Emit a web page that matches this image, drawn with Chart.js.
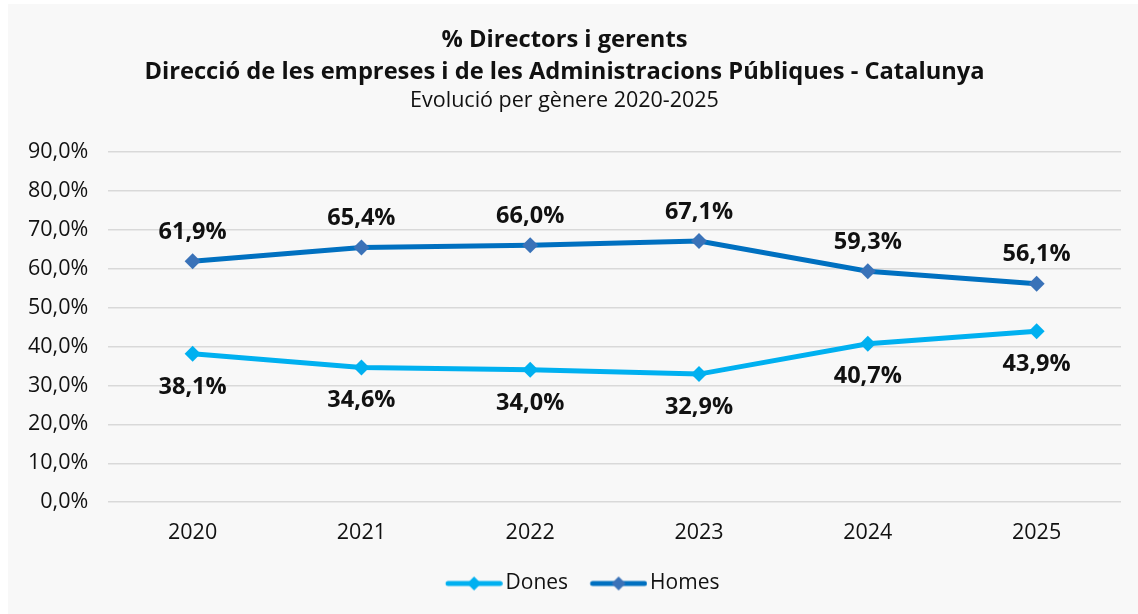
<!DOCTYPE html>
<html>
<head>
<meta charset="utf-8">
<script src="https://cdn.jsdelivr.net/npm/chart.js@4/dist/chart.umd.min.js"></script>
<style>
  html, body { margin: 0; padding: 0; background: #ffffff; }
  #wrap { position: absolute; left: 8px; top: 4px; width: 1130px; height: 610px; background: #f8f8f8; }
</style>
</head>
<body>
<div id="wrap"><canvas id="chart"></canvas></div>
<script>
const years = ['2020', '2021', '2022', '2023', '2024', '2025'];
const dones = [38.1, 34.6, 34.0, 32.9, 40.7, 43.9];
const homes = [61.9, 65.4, 66.0, 67.1, 59.3, 56.1];
const yTicks = { min: 0, max: 90, step: 10 };

const FONT = '"Open Sans", "Noto Sans", sans-serif';
const fmt = v => v.toFixed(1).replace('.', ',') + '%';

// legend sample: a line with a diamond in the middle, drawn into a small canvas
const SAMPLE_BOX = 54.5;   // pointStyleWidth
const SAMPLE_IMG = 70;     // image width
const SAMPLE_LEAD = 5;     // blank space before the visible line
const SAMPLE_LEN = 57;     // visible line length
function legendSample(lineColor, markColor) {
  const c = document.createElement('canvas');
  c.width = SAMPLE_IMG; c.height = 18;
  const g = c.getContext('2d');
  const x0 = (SAMPLE_IMG - SAMPLE_BOX) / 2 + SAMPLE_LEAD;
  const x1 = x0 + SAMPLE_LEN;
  g.strokeStyle = lineColor;
  g.lineWidth = 5;
  g.lineCap = 'round';
  g.beginPath(); g.moveTo(x0 + 2.5, 9); g.lineTo(x1 - 2.5, 9); g.stroke();
  const m = (x0 + x1) / 2;
  g.fillStyle = markColor;
  g.beginPath(); g.moveTo(m, 2); g.lineTo(m + 7, 9); g.lineTo(m, 16); g.lineTo(m - 7, 9); g.closePath(); g.fill();
  return c;
}

const valueLabels = {
  id: 'valueLabels',
  afterDatasetsDraw(chart) {
    const ctx = chart.ctx;
    ctx.save();
    ctx.font = 'bold 23.5px ' + FONT;
    ctx.fillStyle = '#111';
    ctx.textAlign = 'center';
    ctx.textBaseline = 'middle';
    chart.data.datasets.forEach((ds, i) => {
      const meta = chart.getDatasetMeta(i);
      const dy = ds.labelSide === 'above' ? -29 : 33;
      meta.data.forEach((pt, j) => {
        ctx.fillText(fmt(ds.data[j]), pt.x, pt.y + dy);
      });
    });
    ctx.restore();
  }
};

// nudge the legend box so it sits a little right of centre, as in the original
const legendShift = {
  id: 'legendShift',
  afterLayout(chart) {
    if (chart.legend) chart.legend.left += 31;
  }
};

new Chart(document.getElementById('chart'), {
  type: 'line',
  data: {
    labels: years,
    datasets: [
      {
        label: 'Dones',
        data: dones,
        labelSide: 'below',
        borderColor: '#00b0f0',
        backgroundColor: '#00b0f0',
        pointBackgroundColor: '#00b0f0',
        pointBorderColor: '#00b0f0',
        borderWidth: 5,
        pointStyle: 'rectRot',
        pointRadius: 8,
        pointBorderWidth: 0,
        tension: 0,
        legendImg: legendSample('#00b0f0', '#00b0f0')
      },
      {
        label: 'Homes',
        data: homes,
        labelSide: 'above',
        borderColor: '#0070c0',
        backgroundColor: '#0070c0',
        pointBackgroundColor: '#3a72b8',
        pointBorderColor: '#3a72b8',
        borderWidth: 5,
        pointStyle: 'rectRot',
        pointRadius: 8,
        pointBorderWidth: 0,
        tension: 0,
        legendImg: legendSample('#0070c0', '#3a72b8')
      }
    ]
  },
  options: {
    responsive: true,
    maintainAspectRatio: false,
    animation: false,
    layout: { padding: { left: 0, right: 17, top: 0, bottom: 10 } },
    scales: {
      x: {
        offset: true,
        grid: { display: false },
        border: { display: false },
        ticks: { color: '#111', font: { family: FONT, size: 21.5 }, padding: 10 }
      },
      y: {
        min: yTicks.min,
        max: yTicks.max,
        grid: { color: '#d9d9d9', lineWidth: 1.5, drawTicks: false },
        border: { display: false },
        ticks: { stepSize: yTicks.step, color: '#111', font: { family: FONT, size: 21.5 }, padding: 20, callback: v => fmt(v) }
      }
    },
    plugins: {
      title: {
        display: true,
        text: ['% Directors i gerents', 'Direcció de les empreses i de les Administracions Públiques - Catalunya'],
        color: '#111',
        font: { family: FONT, size: 23.7, weight: 'bold', lineHeight: 1.35 },
        padding: { top: 20, bottom: 0 }
      },
      subtitle: {
        display: true,
        text: 'Evolució per gènere 2020-2025',
        color: '#111',
        font: { family: FONT, size: 21.5, lineHeight: 1.2 },
        padding: { top: 0, bottom: 38 }
      },
      legend: {
        position: 'bottom',
        labels: {
          color: '#111',
          font: { family: FONT, size: 21 },
          usePointStyle: true,
          pointStyleWidth: SAMPLE_BOX,
          padding: 17,
          generateLabels: chart => chart.data.datasets.map((ds, i) => ({
            text: ds.label,
            pointStyle: ds.legendImg,
            fontColor: '#111',
            datasetIndex: i,
            hidden: false
          }))
        }
      },
      tooltip: { enabled: false }
    }
  },
  plugins: [valueLabels, legendShift]
});
</script>
</body>
</html>
